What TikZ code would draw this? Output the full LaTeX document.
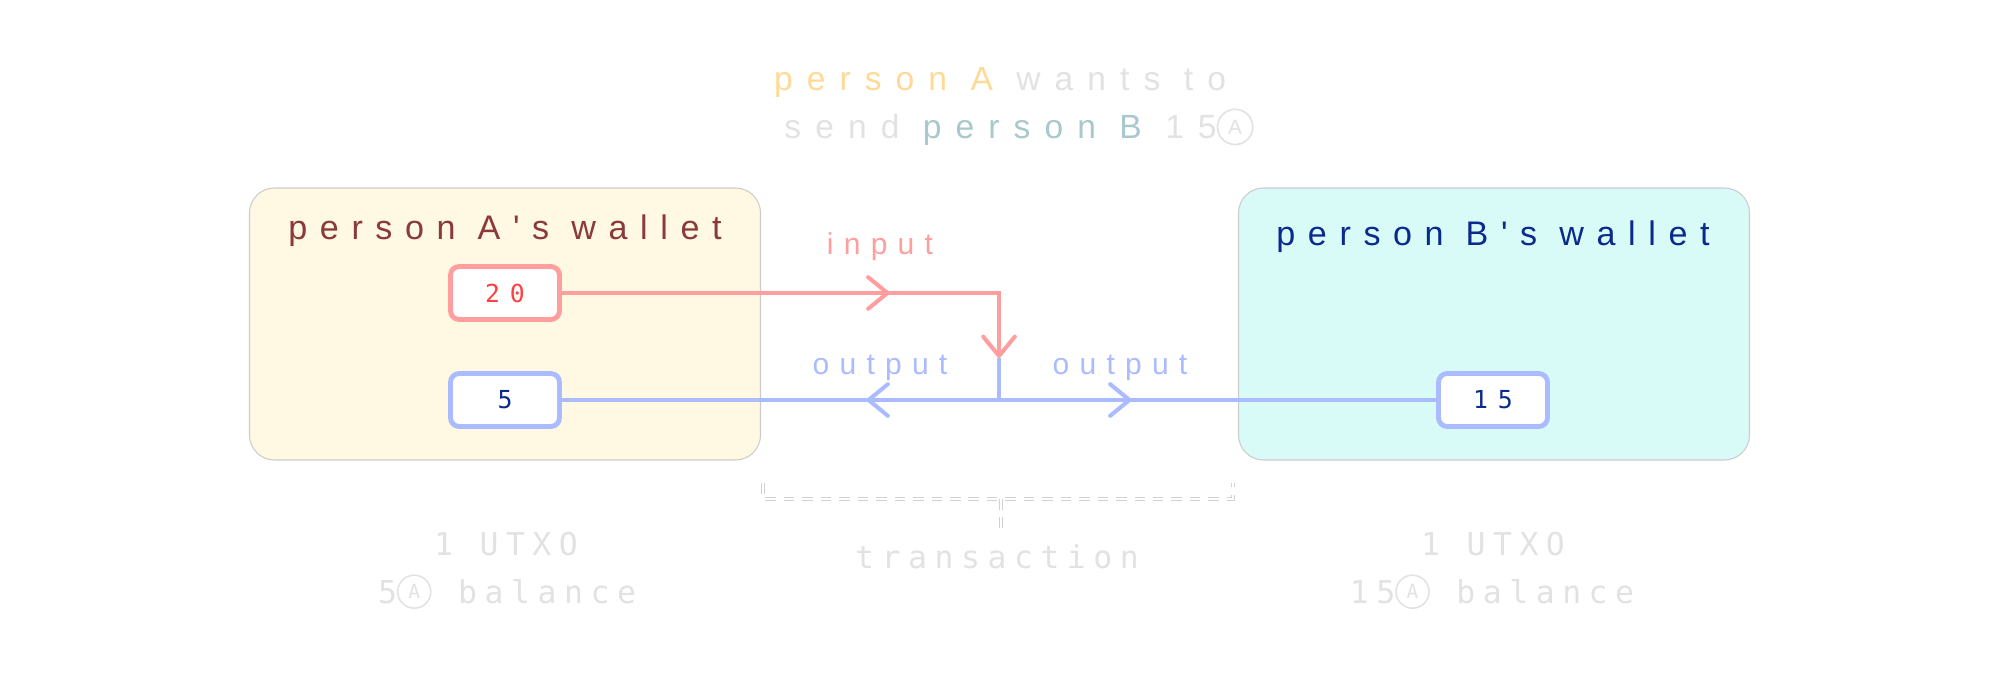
\documentclass[tikz,border=0pt]{standalone}
\usepackage{fontspec}
\setmainfont{Liberation Sans}
\newfontfamily\goalfont[LetterSpace=42]{Liberation Sans}
\newfontfamily\walletfont[LetterSpace=37]{Liberation Sans}
\newfontfamily\spacedsans[LetterSpace=34]{Liberation Sans}
\newfontfamily\spacedmono[LetterSpace=24]{DejaVu Sans Mono}
\newfontfamily\digitmono[LetterSpace=40]{DejaVu Sans Mono}
\usetikzlibrary{arrows.meta}
\usetikzlibrary{decorations.markings}

\definecolor{creamfill}{RGB}{255,248,227}
\definecolor{mintfill}{RGB}{216,251,247}
\definecolor{walletbrown}{RGB}{139,58,58}
\definecolor{walletnavy}{RGB}{12,42,140}
\definecolor{inred}{RGB}{255,158,158}
\definecolor{coinred}{RGB}{255,64,64}
\definecolor{outblue}{RGB}{170,188,255}
\definecolor{senderc}{RGB}{255,218,150}
\definecolor{receiverc}{RGB}{168,200,204}
\definecolor{ghost}{RGB}{226,226,226}

% circled A, the coin sign
\newcommand{\coinsign}{\tikz[baseline=-0.36em]
  \node[circle, draw=ghost, text=ghost, line width=0.05em, inner sep=0.1em,
    minimum size=1.05em, anchor=center] (coinA) at (0,0) {\scalebox{0.62}{A}};}

\tikzset{
  barb/.tip={Straight Barb[length=11pt,width=18pt,line width=2.3pt,round]},
  wallet/.style={draw=black!20, line width=0.6pt, rounded corners=0.5cm,
    minimum width=10.22cm, minimum height=5.44cm},
  coin/.style={draw, line width=2.8pt, rounded corners=5pt, fill=white,
    minimum width=2.18cm, minimum height=1.06cm,
    font=\digitmono\fontsize{14.1pt}{16pt}\selectfont},
  walletname/.style={anchor=base, font=\walletfont\fontsize{19.4pt}{22pt}\selectfont},
  flowlabel/.style={anchor=base, font=\spacedsans\fontsize{17.1pt}{20pt}\selectfont},
  note/.style={anchor=base, text=ghost, font=\spacedmono\fontsize{17.9pt}{21pt}\selectfont},
  inflow/.style={draw=inred, line width=2.3pt},
  outflow/.style={draw=outblue, line width=2.3pt},
  midarrow/.style={postaction={decorate}, decoration={markings,
    mark=at position #1 with {\arrow{barb}}}},
  bracket/.style={draw=black!18, double=white, double distance=1.4pt,
    line width=0.5pt, dash pattern=on 6pt off 4.5pt}
}

\begin{document}
\begin{tikzpicture}
  \useasboundingbox (0,0) rectangle (39.98,13.70);

  % goal
  \node[anchor=base, font=\goalfont\fontsize{19.1pt}{21pt}\selectfont] (goal1) at (20.00,11.88)
    {\textcolor{senderc}{person A} \textcolor{ghost}{wants to}};
  \node[anchor=base, font=\goalfont\fontsize{19.1pt}{21pt}\selectfont] (goal2) at (20.38,10.92)
    {\textcolor{ghost}{send} \textcolor{receiverc}{person B} \textcolor{ghost}{15\coinsign}};

  % wallets
  \node[wallet, fill=creamfill] (walletA) at (10.10,7.22) {};
  \node[wallet, fill=mintfill] (walletB) at (29.88,7.22) {};
  \node[walletname, text=walletbrown] (nameA) at (10.10,8.92) {person A's wallet};
  \node[walletname, text=walletnavy] (nameB) at (29.86,8.80) {person B's wallet};

  % utxos
  \node[coin, draw=inred, text=coinred] (in20) at (10.10,7.84) {20};
  \node[coin, draw=outblue, text=walletnavy] (out5) at (10.10,5.70) {5};
  \node[coin, draw=outblue, text=walletnavy] (out15) at (29.86,5.70) {15};
  \coordinate (split) at (19.98,6.54);
  \coordinate (junction) at (19.98,5.70);

  % flows
  \draw[inflow, midarrow=6.55cm, -barb] (in20) -- (in20 -| split) -- (split);
  \draw[outflow] (split) -- (junction);
  \draw[outflow, midarrow=2.65cm] (junction) -- (out5);
  \draw[outflow, midarrow=2.65cm] (junction) -- (out15);
  \node[flowlabel, text=inred] (inlabel) at (17.60,8.62) {input};
  \node[flowlabel, text=outblue] (outlabelA) at (17.60,6.22) {output};
  \node[flowlabel, text=outblue] (outlabelB) at (22.40,6.22) {output};

  % transaction
  \draw[bracket] (15.26,4.04) -- (15.26,3.72) -- (24.66,3.72) -- (24.66,4.04);
  \draw[bracket] (20.02,3.72) -- (20.02,3.10);
  \node[note] (txlabel) at (19.94,2.34) {transaction};

  % balances
  \node[note] (countA) at (10.12,2.60) {1 UTXO};
  \node[note] (balanceA) at (10.14,1.64) {5\coinsign{} balance};
  \node[note] (countB) at (29.86,2.60) {1 UTXO};
  \node[note] (balanceB) at (29.84,1.64) {15\coinsign{} balance};
\end{tikzpicture}
\end{document}
